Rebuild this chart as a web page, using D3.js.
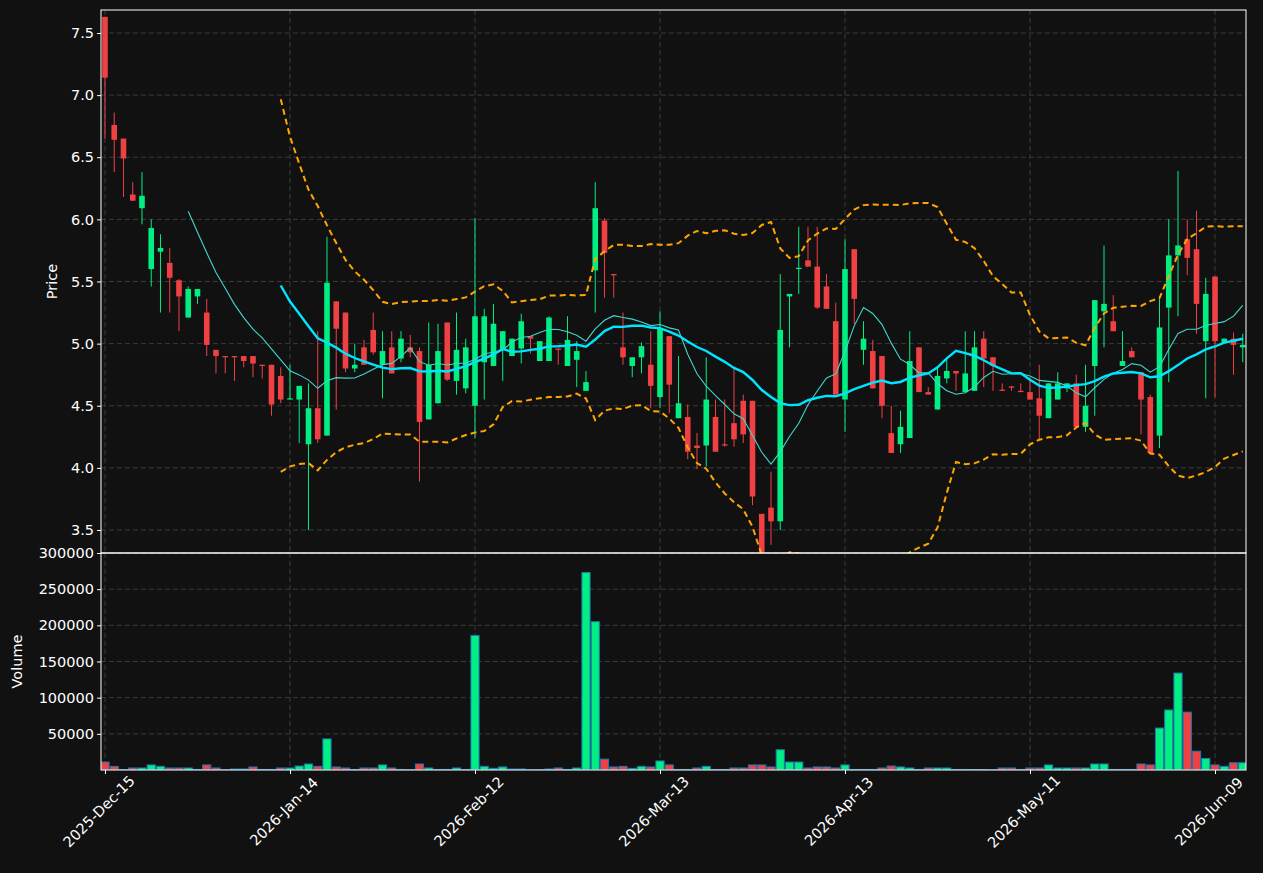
<!DOCTYPE html>
<html><head><meta charset="utf-8">
<script src="https://cdn.jsdelivr.net/npm/d3@7"></script>
<style>body{margin:0;background:#111111;}svg{display:block;}</style>
</head><body>
<script>
const opens=[7.63,6.76,6.65,6.20,6.09,5.60,5.74,5.65,5.51,5.21,5.38,5.25,4.95,4.90,4.90,4.90,4.90,4.83,4.83,4.74,4.55,4.55,4.19,4.48,4.26,5.34,5.25,4.80,4.97,5.11,4.83,4.97,4.88,4.97,4.94,4.39,4.52,5.17,4.70,4.64,4.50,4.85,4.82,4.95,4.90,4.96,5.06,4.86,4.86,4.96,4.82,4.87,4.62,5.59,5.99,5.56,4.97,4.82,4.89,4.83,4.57,5.06,4.40,4.41,4.18,4.18,4.41,4.19,4.36,4.54,4.54,3.63,3.68,3.57,5.38,5.60,5.67,5.62,5.46,5.18,4.55,5.76,4.95,4.94,4.90,4.28,4.19,4.24,4.97,4.61,4.47,4.72,4.78,4.61,4.62,5.04,4.89,4.63,4.655,4.62,4.61,4.56,4.40,4.55,4.64,4.68,4.33,4.82,5.26,5.18,4.82,4.94,4.77,4.57,4.26,5.29,5.71,5.84,5.76,5.02,5.54,5.01,5.04,4.97];
const highs=[7.63,6.86,6.65,6.30,6.38,6.00,5.88,5.77,5.52,5.46,5.44,5.36,4.95,4.90,4.90,4.90,4.90,4.83,4.83,4.81,4.83,4.66,4.68,5.10,5.86,5.34,5.25,5.00,5.03,5.25,5.10,5.10,5.10,5.07,4.97,5.17,5.16,5.17,5.25,5.04,6.01,5.28,5.32,5.10,5.04,5.24,5.06,5.02,5.22,4.96,5.22,5.02,4.78,6.30,6.01,5.56,5.25,4.89,5.01,5.10,5.26,5.06,4.90,4.51,4.28,4.89,4.55,4.55,4.80,4.59,4.54,3.63,3.97,5.56,5.40,5.94,5.94,5.94,5.56,5.33,5.84,5.76,5.18,5.03,4.90,4.50,4.46,5.10,4.97,4.65,4.81,4.88,4.78,5.10,5.10,5.10,4.89,4.68,4.66,4.68,4.73,4.83,4.68,4.77,4.68,4.75,4.83,5.35,5.79,5.39,5.10,4.97,4.77,4.59,5.38,6.00,6.39,6.00,6.07,5.53,5.54,5.04,5.09,5.08];
const lows=[6.65,6.38,6.18,6.15,5.96,5.46,5.25,5.25,5.10,5.21,5.32,4.90,4.76,4.76,4.70,4.81,4.73,4.72,4.42,4.52,4.55,4.20,3.50,4.20,4.26,4.47,4.77,4.77,4.83,4.91,4.56,4.76,4.85,4.89,3.89,4.39,4.52,4.70,4.59,4.60,4.24,4.55,4.82,4.70,4.90,4.84,4.92,4.86,4.86,4.83,4.82,4.65,4.62,5.25,5.37,5.37,4.83,4.73,4.76,4.48,4.48,4.44,4.40,4.07,3.99,4.01,4.13,4.17,4.17,4.20,3.70,3.28,3.38,3.50,4.97,5.40,5.62,5.28,5.28,4.59,4.29,5.16,4.83,4.64,4.40,4.12,4.12,4.24,4.61,4.59,4.47,4.68,4.62,4.61,4.62,4.65,4.62,4.62,4.62,4.61,4.55,4.23,4.40,4.55,4.61,4.33,4.29,4.42,4.97,5.10,4.82,4.89,4.27,4.12,4.16,4.69,5.22,5.55,5.08,4.56,4.57,5.01,4.75,4.85];
const closes=[7.14,6.64,6.49,6.15,6.19,5.93,5.77,5.53,5.38,5.44,5.44,4.99,4.90,4.89,4.89,4.86,4.84,4.825,4.51,4.55,4.56,4.66,4.48,4.23,5.49,5.12,4.80,4.83,4.83,4.93,4.94,4.76,5.04,4.93,4.37,4.83,4.94,4.71,4.95,4.97,5.22,5.22,5.16,5.10,5.04,5.18,5.04,5.02,5.21,4.95,5.03,4.94,4.69,6.09,5.73,5.55,4.89,4.89,4.98,4.66,5.12,4.67,4.52,4.13,4.16,4.55,4.13,4.18,4.23,4.27,3.77,3.32,3.57,5.11,5.40,5.61,5.62,5.29,5.28,4.59,5.60,5.36,5.04,4.64,4.50,4.12,4.33,4.86,4.61,4.59,4.74,4.78,4.76,4.76,4.97,4.88,4.82,4.62,4.65,4.61,4.55,4.42,4.68,4.68,4.68,4.33,4.50,5.35,5.32,5.10,4.86,4.89,4.55,4.12,5.13,5.71,5.79,5.69,5.32,5.40,5.02,5.04,4.99,4.99];
const volumes=[11000,5000,500,2800,2800,7000,5000,2800,2800,2800,800,7000,2800,300,1400,1400,4200,800,800,2800,2800,5500,8300,5000,43000,4200,2800,800,2800,2800,7000,2800,800,300,8300,2800,800,800,2800,800,186000,5000,2300,4200,1400,1400,300,300,1400,2800,800,2800,273000,205000,15000,4200,5000,2300,5000,4200,12500,7000,800,800,2800,5000,800,800,2800,2800,7000,7000,4200,28000,11000,11000,2800,4200,4200,2800,7000,800,800,800,2800,5500,4200,2800,800,2800,2800,2800,800,800,600,600,300,2800,2800,800,2800,2800,7000,2800,2800,2800,2800,8300,8300,800,800,800,8300,7000,58000,83000,134000,80000,26000,16000,7000,5000,10000,10000];
const tickIdx=[0,20,40,60,80,100,120];
const tickLabels=["2025-Dec-15","2026-Jan-14","2026-Feb-12","2026-Mar-13","2026-Apr-13","2026-May-11","2026-Jun-09"];
const priceTicks=[3.5,4.0,4.5,5.0,5.5,6.0,6.5,7.0,7.5];
const volTicks=[50000,100000,150000,200000,250000,300000];

const W=1263,H=873,L=101,R=1246,PT=10,PB=553,VB=770;
const GREEN="#00ee82",RED="#ef4144";
const n=closes.length, idx=d3.range(n);
const svg=d3.select("body").append("svg").attr("width",W).attr("height",H).style("background","#111111")
 .style("font-family","DejaVu Sans, sans-serif");
const x=d3.scaleLinear().domain([-0.43,123.35]).range([L,R]);
const y=d3.scaleLinear().domain([3.315,7.685]).range([PB,PT]);
const yv=d3.scaleLinear().domain([0,300000]).range([VB,PB]);

const defs=svg.append("defs");
defs.append("clipPath").attr("id","cp").append("rect").attr("x",L).attr("y",PT).attr("width",R-L).attr("height",PB-PT);
defs.append("clipPath").attr("id","cv").append("rect").attr("x",L).attr("y",PB).attr("width",R-L).attr("height",VB-PB);

const grid=svg.append("g").attr("stroke","#3a3a3a").attr("stroke-dasharray","5,3").attr("stroke-width",1);
priceTicks.forEach(t=>grid.append("line").attr("x1",L).attr("x2",R).attr("y1",y(t)).attr("y2",y(t)));
volTicks.forEach(t=>grid.append("line").attr("x1",L).attr("x2",R).attr("y1",yv(t)).attr("y2",yv(t)));
tickIdx.forEach(t=>{grid.append("line").attr("x1",x(t)).attr("x2",x(t)).attr("y1",PT).attr("y2",PB);
 grid.append("line").attr("x1",x(t)).attr("x2",x(t)).attr("y1",PB).attr("y2",VB);});

function sma(w){return idx.map(i=>i<w-1?null:d3.mean(closes.slice(i-w+1,i+1)));}
function sd(w){return idx.map(i=>i<w-1?null:d3.deviation(closes.slice(i-w+1,i+1)));}
const s10=sma(10),s20=sma(20),d20=sd(20);
const up=s20.map((m,i)=>m==null?null:m+2*d20[i]),lo=s20.map((m,i)=>m==null?null:m-2*d20[i]);
const pg=svg.append("g").attr("clip-path","url(#cp)");
const line=d3.line().defined(d=>d[1]!=null).x(d=>x(d[0])).y(d=>y(d[1]));
const cg=pg.append("g");
idx.forEach(i=>{const c=closes[i]>=opens[i]?GREEN:RED;
 cg.append("line").attr("x1",x(i)).attr("x2",x(i)).attr("y1",y(highs[i])).attr("y2",y(lows[i])).attr("stroke",c).attr("stroke-width",1);
 const t=y(Math.max(opens[i],closes[i])),b=y(Math.min(opens[i],closes[i]));
 cg.append("rect").attr("x",x(i)-2.8).attr("width",5.6).attr("y",t).attr("height",Math.max(b-t,1.2)).attr("fill",c);});
pg.append("path").attr("d",line(idx.map(i=>[i,s10[i]]))).attr("fill","none").attr("stroke","#40d8cc").attr("stroke-width",1.1);
pg.append("path").attr("d",line(idx.map(i=>[i,s20[i]]))).attr("fill","none").attr("stroke","#00e5ff").attr("stroke-width",2.4);
[up,lo].forEach(a=>pg.append("path").attr("d",line(idx.map(i=>[i,a[i]]))).attr("fill","none").attr("stroke","#ffa500").attr("stroke-width",2).attr("stroke-dasharray","6,4"));

const vg=svg.append("g").attr("clip-path","url(#cv)");
idx.forEach(i=>{vg.append("rect").attr("x",x(i)-4.1).attr("width",8.2).attr("y",yv(volumes[i])).attr("height",VB-yv(volumes[i]))
 .attr("fill",closes[i]>=opens[i]?GREEN:RED).attr("stroke","#1f77b4").attr("stroke-width",1);});

svg.append("rect").attr("x",L).attr("y",PT).attr("width",R-L).attr("height",PB-PT).attr("fill","none").attr("stroke","#fff").attr("stroke-width",1);
svg.append("rect").attr("x",L).attr("y",PB).attr("width",R-L).attr("height",VB-PB).attr("fill","none").attr("stroke","#fff").attr("stroke-width",1);

const ya=svg.append("g").attr("transform",`translate(${L},0)`).call(d3.axisLeft(y).tickValues(priceTicks).tickFormat(d3.format(".1f")).tickSize(4));
const va=svg.append("g").attr("transform",`translate(${L},0)`).call(d3.axisLeft(yv).tickValues(volTicks).tickFormat(d3.format("d")).tickSize(4));
const xa=svg.append("g").attr("transform",`translate(0,${VB})`).call(d3.axisBottom(x).tickValues(tickIdx).tickFormat((d,i)=>tickLabels[i]).tickSize(4));
[ya,va,xa].forEach(a=>{a.select(".domain").remove();a.selectAll("line").attr("stroke","#fff");
 a.selectAll("text").attr("fill","#fff").style("font-size","14.5px").style("font-family","DejaVu Sans, sans-serif");});
xa.selectAll("text").attr("text-anchor","middle").attr("dy",0).attr("y",0)
 .attr("transform","translate(-3,45) rotate(-45)");
svg.append("text").attr("transform",`translate(57,${(PT+PB)/2}) rotate(-90)`).attr("text-anchor","middle").attr("fill","#fff").style("font-size","14.5px").text("Price");
svg.append("text").attr("transform",`translate(22,${(PB+VB)/2}) rotate(-90)`).attr("text-anchor","middle").attr("fill","#fff").style("font-size","14.5px").text("Volume");
</script></body></html>
